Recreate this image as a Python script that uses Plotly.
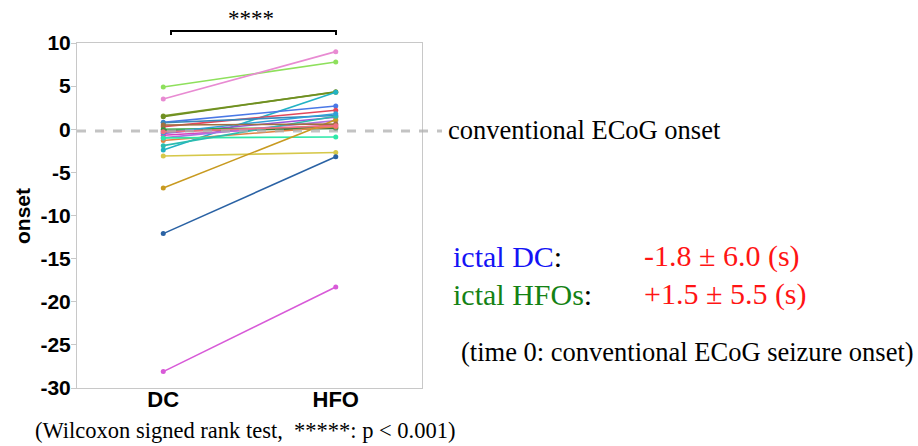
import plotly.graph_objects as go

# ---- data ----
categories = ["DC", "HFO"]
dc_onset = [4.9, 3.5, 1.55, 1.45, -2.4, 0.8, 0.3, 0.75, -0.5, -0.7, 0.0, -0.2,
            -1.3, -1.0, -1.0, -3.1, -6.8, -12.1, -28.1, -1.9, -0.4, 0.5, -0.3]
hfo_onset = [7.8, 9.0, 4.3, 4.35, 4.3, 2.7, 2.2, 1.6, 1.4, 0.5, 0.2, 0.1,
             0.3, 1.0, -0.9, -2.7, 1.1, -3.2, -18.3, 1.5, 1.8, 0.6, 0.4]
subject_colors = ["#8ee05c", "#e88bd2", "#7a9a26", "#6f8f22", "#22b2c4", "#4a78e6",
                  "#e2485c", "#3a88b8", "#9a52dc", "#d842bc", "#2fa040", "#3a7a3a",
                  "#e08444", "#b070e0", "#2ee8a8", "#d6c84a", "#c89a20", "#2a62a4",
                  "#d85ad8", "#2cbcb0", "#30a0d8", "#a07040", "#f07080"]
yticks = [10, 5, 0, -5, -10, -15, -20, -25, -30]
conventional_onset = -0.2

W, H = 918, 446
L, R, T, B = 77, 422, 43, 388  # plot area pixels

def px(x):
    return (x - L) / (R - L)

def py(y):
    return (B - y) / (B - T)

fig = go.Figure()
for d, h, c in zip(dc_onset, hfo_onset, subject_colors):
    fig.add_trace(go.Scatter(x=categories, y=[d, h], mode="lines+markers",
                             line=dict(color=c, width=1.6),
                             marker=dict(color=c, size=5),
                             showlegend=False, hoverinfo="skip"))

bold = "Liberation Sans, Arial, sans-serif"
serif = "Liberation Serif, Times New Roman, serif"

fig.update_layout(
    width=W, height=H,
    margin=dict(l=L, r=W - R, t=T, b=H - B),
    plot_bgcolor="white", paper_bgcolor="white",
    xaxis=dict(range=[-0.5, 1.5], showgrid=False, zeroline=False,
               showline=True, linecolor="#c8c8c8", mirror=True, ticks="",
               ticklabelstandoff=-8,
               tickfont=dict(family=bold, size=22, color="black", weight="bold")),
    yaxis=dict(range=[-30, 10], tickvals=yticks, ticktext=[str(v) for v in yticks],
               showgrid=False, zeroline=False, showline=True, linecolor="#c8c8c8",
               mirror=True, ticks="outside", ticklen=5, tickcolor="#c8c8c8",
               ticklabelstandoff=-4,
               tickfont=dict(family=bold, size=21, color="black", weight="bold")),
)

# dashed conventional onset line extending past the plot
fig.add_shape(type="line", xref="paper", yref="y", x0=0, x1=px(442),
              y0=conventional_onset, y1=conventional_onset,
              line=dict(color="rgba(175,175,175,0.75)", width=3, dash="dash"),
              layer="above")

# significance bracket
fig.add_shape(type="path", xref="paper", yref="paper",
              path=f"M {px(171)},{py(35)} L {px(171)},{py(31)} L {px(336)},{py(31)} L {px(336)},{py(35)}",
              line=dict(color="black", width=2))

def note(text, x, y, size, family=serif, color="black", xanchor="left", angle=0):
    return dict(text=text, x=px(x), y=py(y), xref="paper", yref="paper",
                xanchor=xanchor, yanchor="middle", showarrow=False, textangle=angle,
                font=dict(family=family, size=size, color=color))

ann = [
    note("****", 251, 19, 23, xanchor="center"),
    note("<b>onset</b>", 23, 216, 21, family=bold, xanchor="center", angle=-90),
    note("conventional ECoG onset", 446, 130, 26.5),
    note("<span style='color:#1414f5'>ictal DC</span>:", 451, 256, 30),
    note("-1.8 ± 6.0 (s)", 642, 256, 30, color="#ff1414"),
    note("<span style='color:#148214'>ictal HFOs</span>:", 451, 294, 30),
    note("+1.5 ± 5.5 (s)", 642, 294, 30, color="#ff1414"),
    note("(time 0: conventional ECoG seizure onset)", 459, 352, 26.5),
    note("(Wilcoxon signed rank test,  *****: p < 0.001)", 33, 430, 22.5),
]
fig.update_layout(annotations=ann)

fig.write_html("out.html")
